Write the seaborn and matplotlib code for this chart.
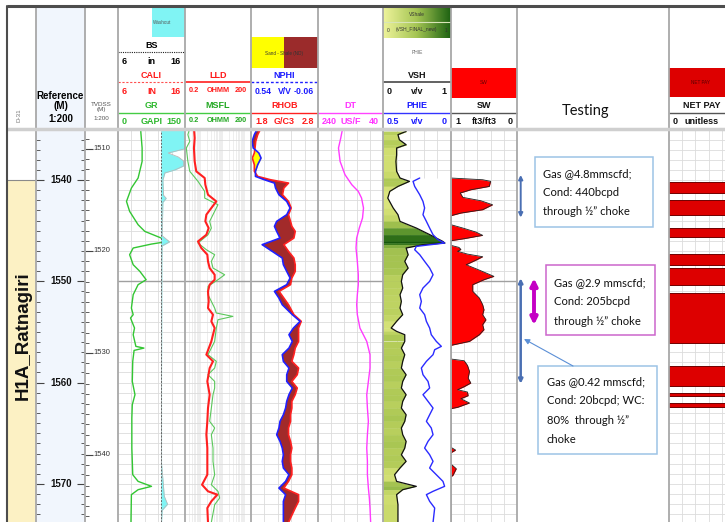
"""
Composite well log, D-31 / H1A_Ratnagiri, redrawn with seaborn + matplotlib
"""
import matplotlib
matplotlib.use('Agg')
import matplotlib.pyplot as plt
from matplotlib.colors import LinearSegmentedColormap
from matplotlib.patches import Rectangle
from matplotlib.ticker import FixedLocator, MultipleLocator, NullLocator
import seaborn as sns
import numpy as np

# ---------------------------------------------------------------- depth window
MD_TOP, MD_BOT = 1535.06, 1573.76      # measured depth shown in the tracks (m)
TVD_TOP, TVD_BOT = 1508.14, 1546.57    # matching TVDSS window (m)
ref_ticks = [1540, 1550, 1560, 1570]
tvd_ticks = [1510, 1520, 1530, 1540]

zone_name = 'H1A_Ratnagiri'
zone_top = 1540.0

# ---------------------------------------------------------------- log curves
gr_depth = [1534.87, 1535.20, 1536.84, 1538.16, 1539.80, 1540.79, 1542.11, 1543.09, 1544.41, 1545.07,
            1545.73, 1546.06, 1546.32, 1546.71, 1547.37, 1548.36, 1549.02, 1549.84, 1550.33, 1551.32,
            1552.64, 1553.29, 1553.62, 1554.61, 1555.27, 1556.42, 1556.59, 1556.82, 1557.90, 1559.88,
            1561.19, 1562.18, 1563.50, 1565.14, 1566.46, 1567.77, 1569.09, 1569.75, 1570.24, 1570.57,
            1571.06, 1573.80]
gr = [52, 51, 54, 54, 45, 30, 19, 26, 45, 60,
      97, 112, 75, 34, 26, 34, 49, 63, 45, 34,
      30, 34, 28, 37, 34, 40, 58, 36, 33, 32,
      38, 32, 31, 31, 31, 32, 33, 45, 75, 45,
      30, 29]

cali_depth = [1534.87, 1536.51, 1536.91, 1537.33, 1537.72, 1538.12, 1538.61, 1539.00, 1539.30, 1540.00,
              1541.50, 1541.80, 1542.20, 1545.50, 1546.10, 1546.50, 1548.00, 1560.00, 1568.00, 1570.30,
              1571.20, 1572.00, 1572.60, 1573.80]
cali = [16.5, 16.5, 16.0, 13.5, 15.0, 15.8, 15.8, 14.5, 13.0, 12.7,
        12.8, 13.2, 12.7, 12.6, 13.7, 12.6, 12.55, 12.5, 12.5, 12.8,
        12.9, 13.4, 12.6, 12.5]
bit_size = 12.4

lld_depth = [1534.87, 1535.85, 1536.84, 1538.16, 1539.14, 1539.80, 1540.46, 1541.45, 1542.11, 1542.76,
             1543.42, 1544.08, 1544.74, 1545.40, 1546.06, 1546.71, 1547.37, 1548.03, 1548.69, 1549.35,
             1549.84, 1550.33, 1550.99, 1551.98, 1552.64, 1553.29, 1553.95, 1554.61, 1555.93, 1557.24,
             1557.90, 1558.56, 1559.88, 1561.19, 1562.51, 1563.82, 1565.14, 1566.46, 1567.77, 1569.09,
             1570.08, 1570.73, 1571.06, 1571.72, 1572.38, 1573.80]
lld = [0.51, 0.55, 0.51, 0.55, 0.65, 1.57, 1.68, 2.22, 5.3, 3.15,
       1.87, 1.68, 2.38, 1.87, 0.78, 1.1, 2.07, 2.22, 2.64, 4.46,
       4.46, 2.64, 2.22, 2.38, 2.22, 3.75, 3.15, 4.46, 3.15, 1.87,
       3.75, 2.64, 2.07, 2.64, 2.22, 2.07, 1.87, 2.07, 2.07, 2.07,
       1.19, 2.22, 5.9, 3.15, 2.07, 2.22]

msfl_depth = [1534.87, 1535.52, 1536.18, 1536.84, 1538.16, 1539.14, 1540.13, 1541.12, 1541.78, 1542.44,
              1543.09, 1544.08, 1544.74, 1545.40, 1546.22, 1546.88, 1547.37, 1548.03, 1548.69, 1549.35,
              1549.84, 1550.50, 1551.32, 1551.98, 1552.64, 1553.13, 1553.46, 1553.79, 1554.61, 1555.93,
              1557.24, 1557.90, 1558.56, 1559.22, 1559.88, 1560.53, 1561.19, 1562.51, 1563.82, 1564.48,
              1565.14, 1566.46, 1567.77, 1569.09, 1570.08, 1570.73, 1571.39, 1572.05, 1573.80]
msfl = [0.33, 0.27, 0.33, 0.23, 0.27, 0.33, 0.78, 1.57, 1.57, 6.3,
        4.46, 2.64, 3.15, 2.22, 0.78, 1.87, 4.46, 3.15, 3.75, 12.7,
        6.3, 2.22, 2.22, 3.15, 4.46, 5.3, 30.0, 6.3, 5.3, 4.46,
        2.22, 5.3, 4.46, 2.22, 4.46, 4.46, 3.75, 3.15, 2.64, 4.46,
        3.15, 3.75, 3.75, 4.46, 3.15, 6.3, 7.5, 4.46, 3.15]

nd_depth = [1534.87, 1535.52, 1536.18, 1536.84, 1537.33, 1537.83, 1538.49, 1539.14, 1539.64, 1539.97,
            1540.30, 1540.79, 1541.45, 1542.11, 1542.76, 1543.42, 1544.08, 1544.57, 1545.07, 1545.73,
            1546.38, 1547.04, 1547.70, 1548.36, 1549.02, 1549.67, 1550.33, 1550.99, 1551.65, 1552.31,
            1553.29, 1553.95, 1554.61, 1555.27, 1555.93, 1556.59, 1557.24, 1557.90, 1558.56, 1559.22,
            1559.88, 1560.53, 1561.19, 1561.85, 1562.51, 1563.17, 1563.82, 1564.48, 1565.14, 1565.80,
            1566.46, 1567.12, 1567.77, 1568.43, 1569.09, 1569.75, 1570.41, 1571.06, 1571.72, 1572.38,
            1573.80]
rhob = [1.95, 1.90, 1.87, 1.86, 1.85, 1.82, 1.85, 1.85, 1.90, 2.09,
        2.36, 2.29, 2.27, 2.36, 2.40, 2.36, 2.39, 2.41, 2.46, 2.44,
        2.29, 2.36, 2.44, 2.46, 2.46, 2.41, 2.39, 2.22, 2.29, 2.36,
        2.44, 2.55, 2.51, 2.51, 2.51, 2.46, 2.44, 2.41, 2.51, 2.49,
        2.41, 2.49, 2.46, 2.41, 2.41, 2.39, 2.39, 2.36, 2.36, 2.39,
        2.41, 2.39, 2.39, 2.41, 2.41, 2.36, 2.29, 2.51, 2.51, 2.46,
        2.36]
nphi = [0.48, 0.51, 0.53, 0.52, 0.47, 0.45, 0.48, 0.50, 0.50, 0.42,
        0.33, 0.32, 0.29, 0.22, 0.19, 0.22, 0.31, 0.33, 0.31, 0.28,
        0.44, 0.35, 0.26, 0.25, 0.22, 0.19, 0.22, 0.33, 0.29, 0.26,
        0.17, 0.10, 0.16, 0.20, 0.17, 0.20, 0.26, 0.25, 0.20, 0.22,
        0.22, 0.17, 0.20, 0.22, 0.23, 0.25, 0.28, 0.29, 0.31, 0.28,
        0.26, 0.25, 0.26, 0.25, 0.20, 0.23, 0.29, 0.23, 0.25, 0.25,
        0.25]

dt_depth = [1534.87, 1535.85, 1536.84, 1538.16, 1539.47, 1540.46, 1541.12, 1541.78, 1542.76, 1543.75,
            1544.74, 1545.73, 1546.71, 1548.03, 1549.35, 1550.33, 1551.32, 1552.31, 1553.29, 1554.61,
            1555.93, 1557.24, 1558.56, 1559.88, 1561.19, 1562.51, 1563.82, 1565.14, 1566.46, 1567.77,
            1569.09, 1570.41, 1571.39, 1572.38, 1573.80]
dt = [164, 170, 177, 172, 157, 136, 116, 106, 100, 103,
      113, 121, 123, 119, 116, 116, 119, 121, 119, 111,
      90, 80, 80, 85, 90, 88, 85, 88, 90, 88,
      88, 85, 82, 80, 78]

vsh_depth = [1534.87, 1535.20, 1535.52, 1536.02, 1536.51, 1536.84, 1537.50, 1538.16, 1539.14, 1539.80,
             1540.13, 1540.63, 1541.12, 1541.78, 1542.76, 1543.42, 1544.08, 1544.74, 1545.40, 1546.06,
             1546.22, 1546.38, 1546.71, 1547.37, 1548.03, 1548.69, 1549.35, 1550.00, 1550.66, 1551.32,
             1551.98, 1552.64, 1553.29, 1553.95, 1554.61, 1554.94, 1555.27, 1555.93, 1556.59, 1557.24,
             1557.90, 1558.56, 1559.22, 1559.88, 1560.53, 1561.19, 1561.85, 1562.51, 1563.17, 1563.82,
             1564.48, 1565.14, 1565.80, 1566.46, 1567.12, 1567.77, 1568.43, 1569.09, 1569.75, 1570.24,
             1570.57, 1571.06, 1572.05, 1573.80]
vsh = [0.34, 0.34, 0.22, 0.24, 0.34, 0.20, 0.20, 0.19, 0.20, 0.25,
       0.39, 0.22, 0.10, 0.07, 0.15, 0.22, 0.25, 0.49, 0.69, 0.88,
       0.91, 0.59, 0.34, 0.37, 0.32, 0.37, 0.29, 0.27, 0.29, 0.25,
       0.27, 0.25, 0.29, 0.20, 0.12, 0.20, 0.32, 0.32, 0.27, 0.32,
       0.29, 0.27, 0.34, 0.29, 0.27, 0.34, 0.29, 0.27, 0.34, 0.32,
       0.27, 0.29, 0.34, 0.32, 0.27, 0.34, 0.25, 0.17, 0.20, 0.49,
       0.29, 0.20, 0.22, 0.22]

phie_depth = [1539.80, 1540.13, 1540.63, 1541.45, 1542.11, 1542.76, 1543.42, 1544.08, 1544.74, 1545.40,
              1545.89, 1546.22, 1546.55, 1546.88, 1547.37, 1548.03, 1548.69, 1549.35, 1550.00, 1550.66,
              1551.32, 1551.98, 1552.64, 1553.29, 1553.95, 1554.61, 1555.27, 1555.93, 1556.42, 1556.75,
              1557.24, 1557.90, 1558.56, 1559.22, 1559.88, 1560.53, 1561.19, 1561.85, 1562.51, 1563.17,
              1563.82, 1564.48, 1565.14, 1565.80, 1566.46, 1567.12, 1567.77, 1568.43, 1569.09, 1569.75,
              1570.24, 1570.73, 1571.06, 1571.72, 1572.38, 1573.80]
phie = [0.230, 0.279, 0.267, 0.230, 0.206, 0.194, 0.206, 0.181, 0.157, 0.132,
        0.096, 0.047, 0.255, 0.267, 0.230, 0.194, 0.157, 0.132, 0.157, 0.206,
        0.230, 0.218, 0.230, 0.194, 0.181, 0.157, 0.145, 0.108, 0.071, 0.120,
        0.132, 0.181, 0.218, 0.206, 0.169, 0.157, 0.206, 0.169, 0.132, 0.157,
        0.181, 0.145, 0.132, 0.169, 0.194, 0.157, 0.132, 0.157, 0.108, 0.059,
        0.047, 0.132, 0.181, 0.157, 0.120, 0.132]

sw_depth = [1539.80, 1539.97, 1540.13, 1540.63, 1540.96, 1541.28, 1541.71, 1542.04, 1542.44, 1542.93,
            1543.26, 1543.52, 1544.41, 1544.74, 1545.14, 1545.46, 1545.79, 1545.99, 1546.45, 1546.65,
            1546.85, 1547.04, 1547.31, 1547.57, 1547.90, 1548.36, 1548.95, 1549.51, 1549.84, 1550.33,
            1550.99, 1551.65, 1552.31, 1552.80, 1553.29, 1553.79, 1554.28, 1554.77, 1555.27, 1555.93,
            1556.32, 1557.67, 1557.84, 1558.30, 1558.89, 1559.55, 1560.04, 1560.40, 1560.70, 1560.93,
            1561.29, 1561.59, 1562.01, 1562.44, 1562.57, 1566.39, 1566.66, 1566.92, 1568.04, 1568.50,
            1569.15, 1569.29, 1573.80]
sw = [1.00, 0.52, 0.40, 0.42, 0.70, 0.86, 0.82, 0.55, 0.37, 0.52,
      0.85, 1.00, 1.00, 0.82, 0.62, 0.52, 0.80, 1.00, 1.00, 0.88,
      0.85, 0.90, 0.75, 0.52, 0.62, 0.77, 0.55, 0.35, 0.50, 0.67,
      0.67, 0.57, 0.52, 0.50, 0.52, 0.47, 0.52, 0.50, 0.57, 0.72,
      1.00, 1.00, 0.80, 0.75, 0.72, 0.74, 0.70, 0.80, 0.90, 0.75,
      0.74, 0.85, 0.72, 0.90, 1.00, 1.00, 0.93, 1.00, 1.00, 0.92,
      0.97, 1.00, 1.00]

pay_top = [1540.17, 1541.97, 1544.71, 1547.33, 1548.72, 1551.13, 1558.36, 1561.00, 1561.98]
pay_base = [1541.31, 1543.46, 1545.60, 1548.39, 1550.37, 1556.12, 1560.34, 1561.32, 1562.44]

# well tests: interval top / base (MD) and result note
test_top = [1539.5, 1549.7, 1549.7]
test_base = [1543.7, 1560.1, 1554.3]
test_notes = ['Gas @4.8mmscfd;\nCond: 440bcpd\nthrough ½” choke',
              'Gas @0.42 mmscfd;\nCond: 20bcpd; WC:\n80%  through ½”\nchoke',
              'Gas @2.9 mmscfd;\nCond: 205bcpd\nthrough ½” choke']

# ---------------------------------------------------------------- figure
sns.set_theme(style='white')
plt.rcParams['font.family'] = ['Liberation Sans', 'DejaVu Sans']

W, H = 725, 522
Y0 = 130  # top of the data area in pixels
fig = plt.figure(figsize=(W / 100, H / 100), dpi=100)


def px_axes(x0, x1, y0=Y0, y1=H):
    return fig.add_axes([x0 / W, 1 - y1 / H, (x1 - x0) / W, (y1 - y0) / H])


def track(x0, x1, xlim, xticks, log=False, grid_color='#dcdcdc'):
    ax = px_axes(x0, x1)
    if log:
        ax.set_xscale('log')
    ax.set_xlim(*xlim)
    ax.set_ylim(MD_BOT, MD_TOP)
    ax.xaxis.set_major_locator(FixedLocator(xticks))
    ax.xaxis.set_minor_locator(NullLocator())
    ax.yaxis.set_major_locator(MultipleLocator(1))
    ax.grid(True, axis='y', color='#dcdcdc', lw=0.6)
    ax.grid(True, axis='x', color=grid_color, lw=0.6)
    ax.set_axisbelow(True)
    ax.axhline(1550, color='#a0a0a0', lw=1.0, zorder=0.7)
    ax.tick_params(length=0, labelleft=False, labelbottom=False)
    for s in ax.spines.values():
        s.set_visible(False)
    return ax


def twin(ax, xlim):
    t = ax.twiny()
    t.set_xlim(*xlim)
    t.set_ylim(MD_BOT, MD_TOP)
    t.axis('off')
    return t


def curve(ax, x, depth, color, lw):
    sns.lineplot(x=x, y=depth, orient='y', sort=False, estimator=None,
                 color=color, linewidth=lw, ax=ax)


# zone column
ax_zone = px_axes(7, 36)
ax_zone.set_xlim(0, 1)
ax_zone.set_ylim(MD_BOT, MD_TOP)
ax_zone.axhspan(zone_top, MD_BOT, color='#fcf1c4', lw=0)
ax_zone.axhline(zone_top, color='#8a8a8a', lw=0.8)
ax_zone.text(0.55, 1555.4, zone_name, rotation=90, ha='center', va='center',
             fontsize=13.5, fontweight='bold', color='#111111')
ax_zone.axis('off')

# measured depth column
ax_ref = px_axes(36, 85)
ax_ref.set_facecolor('#f1f6fd')
ax_ref.set_xlim(0, 1)
ax_ref.set_ylim(MD_BOT, MD_TOP)
ax_ref.yaxis.set_major_locator(FixedLocator(ref_ticks))
ax_ref.yaxis.set_minor_locator(MultipleLocator(1))
ax_ref.tick_params(axis='y', which='major', direction='in', length=6, width=0.8,
                   color='#444444', left=True, right=True, labelleft=False)
ax_ref.tick_params(axis='y', which='minor', direction='in', length=3, width=0.6,
                   color='#444444', left=True, right=True)
ax_ref.tick_params(axis='x', bottom=False, labelbottom=False)
for s in ax_ref.spines.values():
    s.set_visible(False)
for d in ref_ticks:
    ax_ref.text(0.52, d, str(d), transform=ax_ref.get_yaxis_transform(),
                ha='center', va='center', fontsize=7, fontweight='bold', color='#111111')

# TVDSS column
ax_tvd = px_axes(85, 118)
ax_tvd.set_xlim(0, 1)
ax_tvd.set_ylim(TVD_BOT, TVD_TOP)
ax_tvd.yaxis.set_major_locator(FixedLocator(tvd_ticks))
ax_tvd.yaxis.set_minor_locator(MultipleLocator(1))
ax_tvd.tick_params(axis='y', which='major', direction='in', length=6, width=0.8,
                   color='#444444', left=True, labelleft=False)
ax_tvd.tick_params(axis='y', which='minor', direction='in', length=3, width=0.6,
                   color='#444444', left=True)
ax_tvd.tick_params(axis='x', bottom=False, labelbottom=False)
for s in ax_tvd.spines.values():
    s.set_visible(False)
for d in tvd_ticks:
    ax_tvd.text(0.52, d, str(d), transform=ax_tvd.get_yaxis_transform(),
                ha='center', va='center', fontsize=5.5, color='#333333')

# GR / caliper track
ax_gr = track(118, 185, (0, 150), [30, 60, 90, 120])
ax_cal = twin(ax_gr, (6, 16))
cali_arr = np.array(cali)
ax_cal.fill_betweenx(cali_depth, bit_size, cali_arr, where=cali_arr > bit_size,
                     interpolate=True, color='#80f4f4', lw=0)
curve(ax_cal, cali, cali_depth, '#b9b9b9', 0.6)
ax_cal.axvline(bit_size, color='#666666', lw=0.7, ls=(0, (2, 1.5)))
curve(ax_gr, gr, gr_depth, '#33c633', 1.0)

# resistivity track
res_grid = [0.3, 0.4, 0.5, 0.6, 0.7, 0.8, 0.9, 1, 2, 3, 4, 5, 6, 7, 8, 9, 10,
            20, 30, 40, 50, 60, 70, 80, 90, 100]
ax_res = track(185, 251, (0.2, 200), res_grid, log=True, grid_color='#ebebeb')
curve(ax_res, msfl, msfl_depth, '#5cc85c', 0.8)
curve(ax_res, lld, lld_depth, '#ff2020', 1.5)

# density / neutron track
ax_nd = track(251, 318, (1.8, 2.8), [2.0, 2.2, 2.4, 2.6])
nphi_on_rhob = 1.8 + (0.54 - np.array(nphi)) / 0.6   # NPHI in RHOB units
rhob_arr = np.array(rhob)
ax_nd.fill_betweenx(nd_depth, nphi_on_rhob, rhob_arr, where=nphi_on_rhob <= rhob_arr,
                    interpolate=True, color='#a22a2a', lw=0)
ax_nd.fill_betweenx(nd_depth, nphi_on_rhob, rhob_arr, where=nphi_on_rhob > rhob_arr,
                    interpolate=True, color='#ffff00', lw=0)
curve(ax_nd, rhob, nd_depth, '#ff2020', 1.2)
ax_nphi = twin(ax_nd, (0.54, -0.06))
curve(ax_nphi, nphi, nd_depth, '#2020ff', 1.2)

# sonic track
ax_dt = track(318, 383, (240, 40), [200, 160, 120, 80])
curve(ax_dt, dt, dt_depth, '#ff3cff', 1.0)

# shale volume / porosity track
vsh_cmap = LinearSegmentedColormap.from_list(
    'vsh', [(0.0, '#e4ec8a'), (0.2, '#d0de70'), (0.3, '#b2cb58'), (0.45, '#86b040'),
            (0.65, '#4c8a26'), (0.9, '#15560c'), (1.0, '#0f470a')])
ax_vsh = track(383, 451, (0, 1), [0.2, 0.4, 0.6, 0.8])
vsh_arr = np.array(vsh)
vd = np.array(vsh_depth)
for i in range(len(vsh) - 1):
    c = vsh_cmap((vsh_arr[i] + vsh_arr[i + 1]) / 2)
    ax_vsh.fill_betweenx(vd[i:i + 2], 0, vsh_arr[i:i + 2], color=c, ec=c, lw=0.3)
below = vd >= phie_depth[0]
ax_vsh.fill_betweenx(vd[below], vsh_arr[below], 1, color='white', lw=0)
curve(ax_vsh, vsh, vsh_depth, '#111111', 0.9)
ax_phie = twin(ax_vsh, (0.5, 0))
curve(ax_phie, phie, phie_depth, '#2b2bff', 1.0)

# water saturation track
ax_sw = track(451, 517, (1, 0), [0.8, 0.6, 0.4, 0.2])
ax_sw.fill_betweenx(sw_depth, 1, sw, color='#ff0000', lw=0)
curve(ax_sw, sw, sw_depth, '#222222', 0.6)

# testing column
ax_test = px_axes(517, 669)
ax_test.set_xlim(0, 152)
ax_test.set_ylim(MD_BOT, MD_TOP)
ax_test.axis('off')
arrow_x = [3.7, 3.7, 17]
arrow_col = ['#4a6fb3', '#4a6fb3', '#c400c4']
arrow_lw = [1.4, 1.8, 2.8]
arrow_ms = [6, 6, 10]
for top, base, x, c, lw, ms in zip(test_top, test_base, arrow_x, arrow_col, arrow_lw, arrow_ms):
    ax_test.annotate('', xy=(x, top), xytext=(x, base),
                     arrowprops=dict(arrowstyle='<|-|>', color=c, lw=lw,
                                     mutation_scale=ms, shrinkA=0, shrinkB=0))

# net pay track (runs off the right edge)
ax_pay = track(669, 735, (0, 1), [0.2, 0.4, 0.6, 0.8])
pt, pb = np.array(pay_top), np.array(pay_base)
ax_pay.barh((pt + pb) / 2, 1, height=pb - pt, left=0, color='#dd0000',
            edgecolor='#700000', lw=0.7)

# ---------------------------------------------------------------- header overlay
ov = fig.add_axes([0, 0, 1, 1], zorder=10)
ov.set_xlim(0, W)
ov.set_ylim(H, 0)
ov.axis('off')


def label(x, y, s, color='black', size=6.5, bold=True, ha='center', **kw):
    ov.text(x, y, s, color=color, fontsize=size, ha=ha, va='center',
            fontweight='bold' if bold else 'normal', **kw)


def scale_row(x0, x1, y, left, unit, right, color, size=6.5):
    label(x0 + 4, y, left, color, size, ha='left')
    label((x0 + x1) / 2, y, unit, color, size)
    label(x1 - 4, y, right, color, size, ha='right')


def hline(x0, x1, y, color, lw=1.0, ls='-'):
    ov.plot([x0, x1], [y, y], color=color, lw=lw, ls=ls, solid_capstyle='butt')


ov.add_patch(Rectangle((36, 6), 49, 122, color='#f1f6fd', lw=0))
label(60.5, 96, 'Reference', size=7)
label(60.5, 106, '(M)', size=7)
label(60.5, 119, '1:200', size=7)
for y, s in zip([104, 110, 119], ['TVDSS', '(M)', '1:200']):
    label(101.5, y, s, '#555555', 4.5, bold=False)
label(19, 115, 'D-31', '#777777', 4.5, bold=False, rotation=90)

# GR / CALI / BS header
ov.add_patch(Rectangle((152, 8), 33, 29, color='#80f4f4', lw=0))
label(162, 23, 'Washout', '#555555', 3.3, bold=False)
label(151.5, 45, 'BS')
hline(118, 185, 52, '#222222', 0.8, (0, (1, 1)))
scale_row(118, 185, 61, '6', 'in', '16', 'black')
label(151.5, 76, 'CALI', '#ff1a1a')
hline(118, 185, 82, '#ff5050', 0.8, (0, (2, 1.5)))
scale_row(118, 185, 91, '6', 'IN', '16', '#ff1a1a')
label(151.5, 106, 'GR', '#2eb82e')
hline(118, 185, 113, '#44cc44', 1.0)
scale_row(118, 185, 121, '0', 'GAPI', '150', '#2eb82e')

# resistivity header
label(218, 76, 'LLD', '#ff1a1a')
hline(185, 251, 82, '#ff2020', 1.2)
scale_row(185, 251, 91, '0.2', 'OHMM', '200', '#ff1a1a', 5.3)
label(218, 106, 'MSFL', '#22a822')
hline(185, 251, 113, '#44cc44', 1.0)
scale_row(185, 251, 121, '0.2', 'OHMM', '200', '#22a822', 5.3)

# density / neutron header
ov.add_patch(Rectangle((251, 37), 33, 31, color='#ffff00', lw=0))
ov.add_patch(Rectangle((284, 37), 34, 31, color='#9b2b2b', lw=0))
label(284.5, 53, 'Sand - Shale (ND)', '#333333', 3.3, bold=False)
label(284.5, 76, 'NPHI', '#1a1aff')
hline(251, 318, 82, '#2020ff', 1.0, (0, (2, 1.5)))
scale_row(251, 318, 91, '0.54', 'V/V', '-0.06', '#1a1aff', 6.2)
label(284.5, 106, 'RHOB', '#ff1a1a')
hline(251, 318, 113, '#ff2020', 1.0)
scale_row(251, 318, 121, '1.8', 'G/C3', '2.8', '#ff1a1a')

# sonic header
label(350.5, 106, 'DT', '#ff33ff')
hline(318, 383, 113, '#ff44ff', 1.0)
scale_row(318, 383, 121, '240', 'US/F', '40', '#ff33ff')

# VSH / PHIE header
hdr_cmap = LinearSegmentedColormap.from_list('hdr', ['#eef39b', '#a3c452', '#1d6212'])
ov.imshow(np.linspace(0, 1, 64)[None, :], cmap=hdr_cmap, aspect='auto',
          extent=[383, 451, 38, 7], zorder=1)
ov.set_xlim(0, W)
ov.set_ylim(H, 0)
hline(383, 451, 22, '#d8e4b8', 0.8)
label(417, 14.5, 'VShale', '#333333', 3.5, bold=False)
label(387, 30, '0', '#333333', 3.5, bold=False, ha='left')
label(417, 30, '(VSH_FINAL_new)', '#333333', 3.5, bold=False)
label(447, 30, '1', '#333333', 3.5, bold=False, ha='right')
label(417, 53, 'PHIE', '#666666', 3.5, bold=False)
label(417, 76, 'VSH', '#111111')
hline(383, 451, 82, '#555555', 1.3)
scale_row(383, 451, 91, '0', 'v/v', '1', '#111111')
label(417, 106, 'PHIE', '#1a1aff')
hline(383, 451, 113, '#3333ff', 1.0)
scale_row(383, 451, 121, '0.5', 'v/v', '0', '#1a1aff')

# SW header
ov.add_patch(Rectangle((451, 68), 66, 30, color='#ff0000', lw=0))
label(484, 83, 'SW', '#660000', 3.5, bold=False)
label(484, 106, 'SW', '#111111')
hline(451, 517, 113, '#555555', 1.0)
scale_row(451, 517, 121, '1', 'ft3/ft3', '0', '#111111')

# testing header
ov.text(586, 111, 'Testing', fontsize=10.5, family='Lato', ha='center', va='center',
        color='#111111')

# net pay header
ov.add_patch(Rectangle((669, 68), 66, 29, color='#dd0000', lw=0))
label(701, 83, 'NET PAY', '#550000', 3.3, bold=False)
label(702, 106, 'NET PAY', '#111111')
hline(669, 735, 113, '#555555', 1.0)
label(673, 121, '0', '#111111', ha='left')
label(702, 121, 'unitless', '#111111')

# column separators, borders and the header / data split
for x in [36, 85, 118, 185, 251, 318, 383, 451, 517, 669]:
    ov.plot([x, x], [6, H], color='#a8a8a8', lw=1.3)
hline(7, W, 128.5, '#cfcfcf', 2.5)
hline(7, W, 6, '#4d4d4d', 2.2)
ov.plot([7, 7], [6, H], color='#4d4d4d', lw=1.5)

# test result notes
note_boxes = [(535, 157, 653, 227), (538, 366, 657, 454), (545.7, 265, 655, 335)]
note_edges = ['#9dc3e6', '#9dc3e6', '#cc66cc']
note_x = [543, 547, 554]
note_y0 = [173.3, 381.7, 282.7]
for (x0, y0, x1, y1), ec, tx, ty, note in zip(note_boxes, note_edges, note_x, note_y0, test_notes):
    ov.add_patch(Rectangle((x0, y0), x1 - x0, y1 - y0, fill=False, ec=ec, lw=1.1))
    for k, line in enumerate(note.split('\n')):
        ov.text(tx, ty + k * 19.2, line, fontsize=8.1, family='Lato', ha='left',
                va='center', color='#111111')
ov.annotate('', xy=(524, 339), xytext=(573, 366),
            arrowprops=dict(arrowstyle='-|>', color='#5b8fd6', lw=0.8,
                            mutation_scale=8, shrinkA=0, shrinkB=0))

plt.savefig('out.png', dpi=100)
